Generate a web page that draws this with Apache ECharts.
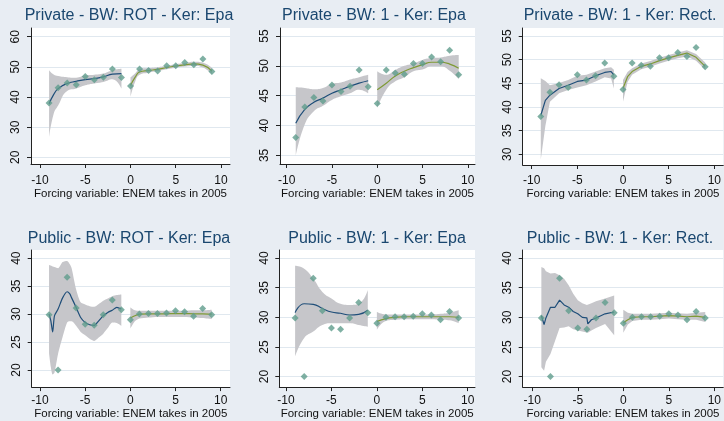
<!DOCTYPE html>
<html><head><meta charset="utf-8">
<script src="https://cdn.jsdelivr.net/npm/echarts@6/dist/echarts.min.js"></script>
<style>html,body{margin:0;padding:0;background:#e8edf3}#c{width:724px;height:421px}</style>
</head><body><div id="c"></div><script>
// ---- data ----
const xLeft = [-9, -8, -7, -6, -5, -4, -3, -2, -1];
const xRight = [0, 1, 2, 3, 4, 5, 6, 7, 8, 9];
const privateLeft = [38.0, 43.1, 44.7, 44.1, 46.8, 45.7, 46.6, 49.3, 46.5];
const privateRight = [43.7, 49.3, 48.8, 48.6, 50.4, 50.4, 51.5, 50.7, 52.6, 48.5];
const publicLeft = [29.9, 20.0, 36.6, 31.1, 28.2, 28.0, 29.9, 32.5, 30.8];
const publicRight = [29.0, 30.0, 30.1, 30.1, 30.2, 30.6, 30.4, 29.6, 31.0, 29.9];

const titles = ['Private - BW: ROT - Ker: Epa', 'Private - BW: 1 - Ker: Epa', 'Private - BW: 1 - Ker: Rect.',
                'Public - BW: ROT - Ker: Epa', 'Public - BW: 1 - Ker: Epa', 'Public - BW: 1 - Ker: Rect.'];
const xTicks = [-10, -5, 0, 5, 10];
const yTicksP1 = [20, 30, 40, 50, 60];
const yTicksP2 = [35, 40, 45, 50, 55];
const yTicksP3 = [30, 35, 40, 45, 50, 55];
const yTicksPub = [20, 25, 30, 35, 40];
const xName = 'Forcing variable: ENEM takes in 2005';

// panel 1 fit (Private, ROT, Epa)
const p1LX = [-9, -8.5, -8, -7, -6, -5, -4, -3, -2, -1];
const p1LFit = [37.8, 40.8, 42.8, 44.5, 45.2, 45.8, 46.1, 46.7, 47.6, 47.8];
const p1LLo = [26.7, 34.4, 37.2, 42.0, 42.8, 43.9, 44.5, 45.0, 45.9, 42.8];
const p1LHi = [48.9, 47.5, 47.0, 46.6, 46.4, 47.2, 47.4, 47.8, 48.9, 49.4];
const p1RX = [0, 0.5, 1, 2, 3, 4, 5, 6, 7, 8, 9];
const p1RFit = [43.8, 46.5, 48.3, 48.8, 49.2, 49.8, 50.3, 50.7, 51.0, 50.6, 48.6];
const p1RLo = [40.0, 45.0, 47.4, 48.1, 48.6, 49.2, 49.7, 50.1, 50.3, 49.8, 47.5];
const p1RHi = [46.5, 47.8, 49.2, 49.6, 49.9, 50.4, 50.9, 51.3, 51.7, 51.4, 49.7];
// panel 2 fit (Private, BW 1, Epa)
const p2LX = [-9, -8, -7, -6, -5, -4, -3, -2, -1];
const p2LFit = [40.4, 42.7, 43.9, 44.6, 45.4, 46.0, 46.6, 47.1, 47.5];
const p2LLo = [34.9, 40.2, 42.4, 43.3, 44.3, 44.9, 45.4, 46.0, 45.4];
const p2LHi = [46.4, 46.3, 46.1, 46.3, 47.0, 47.2, 47.7, 48.1, 48.5];
const p2RX = [0, 1, 2, 3, 4, 5, 6, 7, 8, 9];
const p2RFit = [46.0, 47.1, 48.3, 49.1, 49.7, 50.2, 50.6, 50.6, 50.3, 49.6];
const p2RLo = [42.9, 46.0, 47.4, 48.1, 49.1, 49.4, 49.9, 49.9, 49.2, 47.8];
const p2RHi = [49.1, 48.5, 49.3, 50.0, 50.4, 51.0, 51.3, 51.4, 51.7, 51.8];
// panel 3 fit (Private, BW 1, Rect)
const p3LX = [-9, -8.5, -8, -7, -6, -5, -4, -3, -2, -1.3, -1];
const p3LFit = [38.2, 41.4, 42.5, 43.9, 44.6, 45.4, 45.7, 46.6, 47.3, 47.5, 46.8];
const p3LLo = [28.9, 36.0, 41.1, 42.9, 43.6, 44.1, 44.6, 45.4, 46.3, 46.0, 43.9];
const p3LHi = [46.1, 45.5, 44.6, 45.1, 45.7, 46.6, 46.8, 47.5, 48.2, 48.4, 47.9];
const p3RX = [0, 0.5, 1, 2, 3, 4, 5, 6, 7, 8, 9];
const p3RFit = [43.9, 46.4, 47.5, 48.6, 49.1, 49.8, 50.4, 50.9, 51.4, 50.5, 48.6];
const p3RLo = [41.1, 45.3, 46.8, 48.0, 48.5, 49.2, 49.8, 50.3, 50.7, 49.8, 47.9];
const p3RHi = [45.7, 47.4, 48.2, 49.2, 49.7, 50.4, 51.0, 51.5, 52.0, 51.2, 49.4];
// panel 4 fit (Public, ROT, Epa)
const p4LX = [-9, -8.8, -8.6, -8.4, -8, -7.5, -7, -6.7, -6.5, -6, -5.5, -5, -4.5, -4, -3.5, -3, -2.5, -2, -1.5, -1];
const p4LFit = [30.0, 28.8, 26.8, 29.7, 30.9, 32.9, 34.0, 33.6, 32.9, 31.2, 29.4, 28.5, 28.1, 28.0, 28.8, 29.7, 30.3, 30.7, 31.2, 30.9];
const p4LLo = [23.0, 20.5, 19.2, 19.5, 22.9, 25.9, 28.5, 28.7, 28.7, 27.9, 26.8, 26.2, 25.6, 25.2, 25.8, 26.5, 27.5, 28.5, 28.4, 27.9];
const p4LHi = [38.8, 38.7, 38.5, 38.4, 38.2, 39.3, 39.5, 38.9, 38.2, 34.4, 32.1, 31.7, 31.4, 31.3, 31.8, 32.4, 32.8, 33.2, 33.4, 33.5];
const p4RX = [0, 0.5, 1, 2, 3, 4, 5, 6, 7, 8, 9];
const p4RFit = [29.3, 29.7, 30.0, 30.05, 30.05, 30.05, 30.1, 30.1, 30.05, 30.05, 30.0];
const p4RLo = [27.4, 28.7, 29.2, 29.4, 29.5, 29.5, 29.5, 29.5, 29.4, 29.3, 29.1];
const p4RHi = [31.2, 30.7, 30.6, 30.6, 30.6, 30.6, 30.6, 30.6, 30.7, 30.7, 30.8];
// panel 5 fit (Public, BW 1, Epa)
const p5LX = [-9, -8, -7, -6, -5, -4, -3, -2, -1];
const p5LFit = [30.8, 32.3, 32.2, 31.5, 30.9, 30.7, 30.4, 30.5, 31.2];
const p5LLo = [23.4, 26.5, 27.6, 28.7, 29.0, 29.0, 29.0, 28.7, 28.4];
const p5LHi = [38.7, 38.2, 36.5, 34.3, 33.2, 32.3, 32.1, 32.3, 34.6];
const p5RX = [0, 1, 2, 3, 4, 5, 6, 7, 8, 9];
const p5RFit = [29.3, 29.8, 30.0, 30.1, 30.1, 30.1, 30.1, 30.1, 30.1, 30.0];
const p5RLo = [27.9, 29.4, 29.6, 29.7, 29.7, 29.7, 29.7, 29.6, 29.5, 29.0];
const p5RHi = [30.9, 30.5, 30.5, 30.5, 30.5, 30.5, 30.5, 30.6, 30.8, 31.2];
// panel 6 fit (Public, BW 1, Rect)
const p6LX = [-9, -8.7, -8.5, -8, -7.5, -7, -6.5, -6, -5.5, -5, -4.5, -4, -3.9, -3.5, -3, -2, -1];
const p6LFit = [30.3, 28.8, 29.9, 31.7, 31.7, 32.9, 32.1, 31.7, 31.0, 30.6, 30.0, 29.9, 28.9, 29.6, 29.9, 30.6, 30.9];
const p6LLo = [21.6, 21.0, 22.5, 23.8, 26.0, 28.2, 28.3, 28.5, 28.0, 27.8, 27.6, 27.4, 27.4, 27.8, 28.2, 28.9, 27.0];
const p6LHi = [38.5, 38.3, 37.8, 37.4, 37.5, 37.1, 36.5, 35.4, 34.0, 32.9, 32.4, 32.1, 32.1, 32.4, 32.7, 33.2, 33.7];
const p6RX = [0, 0.5, 1, 2, 3, 4, 5, 6, 7, 8, 9];
const p6RFit = [29.1, 29.6, 30.0, 30.1, 30.1, 30.2, 30.3, 30.2, 30.1, 30.2, 30.0];
const p6RLo = [27.4, 28.8, 29.4, 29.6, 29.6, 29.7, 29.8, 29.7, 29.6, 29.6, 29.2];
const p6RHi = [31.3, 30.8, 30.6, 30.6, 30.6, 30.7, 30.8, 30.7, 30.6, 30.8, 30.9];

// ---- panel assembly ----
const panels = [
  {pts: [privateLeft, privateRight], yTicks: yTicksP1, L: [p1LX, p1LFit, p1LLo, p1LHi], R: [p1RX, p1RFit, p1RLo, p1RHi], smooth: true},
  {pts: [privateLeft, privateRight], yTicks: yTicksP2, L: [p2LX, p2LFit, p2LLo, p2LHi], R: [p2RX, p2RFit, p2RLo, p2RHi], smooth: true},
  {pts: [privateLeft, privateRight], yTicks: yTicksP3, L: [p3LX, p3LFit, p3LLo, p3LHi], R: [p3RX, p3RFit, p3RLo, p3RHi], smooth: false},
  {pts: [publicLeft, publicRight], yTicks: yTicksPub, L: [p4LX, p4LFit, p4LLo, p4LHi], R: [p4RX, p4RFit, p4RLo, p4RHi], smooth: 0.25},
  {pts: [publicLeft, publicRight], yTicks: yTicksPub, L: [p5LX, p5LFit, p5LLo, p5LHi], R: [p5RX, p5RFit, p5RLo, p5RHi], smooth: true},
  {pts: [publicLeft, publicRight], yTicks: yTicksPub, L: [p6LX, p6LFit, p6LLo, p6LHi], R: [p6RX, p6RFit, p6RLo, p6RHi], smooth: false}
];
// layout (pixels / axis extents)
const layout = [
  {left: 31,    top: 28,  width: 199,   height: 136, xmin: -11,    xmax: 11,    ymin: 17.8,  ymax: 62.9,  tx: 129, ty: 8,   lm: 11, ng: 22},
  {left: 280,   top: 28,  width: 195,   height: 136, xmin: -10.74, xmax: 10.8,  ymin: 33.56, ymax: 56.34, tx: 374, ty: 8,   lm: 11, ng: 22},
  {left: 522.7, top: 28,  width: 201.3, height: 137, xmin: -10.98, xmax: 10.98, ymin: 27.74, ymax: 56.7,  tx: 620, ty: 8,   lm: 10, ng: 21},
  {left: 31.7,  top: 250, width: 198.3, height: 139, xmin: -10.92, xmax: 11.03, ymin: 16.95, ymax: 41.46, tx: 129, ty: 231, lm: 8,  ng: 19},
  {left: 279.3, top: 250, width: 195.7, height: 140, xmin: -10.74, xmax: 10.8,  ymin: 18.23, ymax: 41.37, tx: 377, ty: 231, lm: 8,  ng: 19},
  {left: 522.7, top: 250, width: 201.2, height: 140, xmin: -11.05, xmax: 10.98, ymin: 18.23, ymax: 41.37, tx: 620, ty: 231, lm: 8,  ng: 19}
];

const BAND = '#c6c6ca', BLUE = '#1f4e79', GREEN = '#7f9a35', DOT = '#5f9c8c';
const AX = '#222';
const FONT = '"Liberation Sans Narrow", "Liberation Sans", Arial, sans-serif';
const TFONT = '"Liberation Sans", Arial, sans-serif';

function pairs(xs, ys) { return xs.map((x, i) => [x, ys[i]]); }
// band data: value first, x second (so the stack is applied to the y value, by index)
function bandLow(xs, lo) { return xs.map((x, i) => [lo[i], x]); }
function bandSpan(xs, lo, hi) { return xs.map((x, i) => [+(hi[i] - lo[i]).toFixed(3), x]); }

const grid = [], xAxis = [], yAxis = [], series = [], title = [];
panels.forEach((p, i) => {
  const L = layout[i];
  grid.push({left: L.left, top: L.top, width: L.width, height: L.height, show: true, backgroundColor: '#ffffff', borderWidth: 0});
  title.push({text: titles[i], left: L.tx, top: L.ty, textAlign: 'center', padding: 0,
    textStyle: {fontSize: 16, fontWeight: 'normal', color: '#1a476f', fontFamily: TFONT}});
  xAxis.push({gridIndex: i, type: 'value', min: L.xmin, max: L.xmax,
    axisLine: {show: true, onZero: false, lineStyle: {color: AX, width: 1}},
    axisTick: {show: true, length: 4, customValues: xTicks, lineStyle: {color: AX}},
    axisLabel: {customValues: xTicks, fontSize: 12, color: '#111', margin: L.lm, fontFamily: FONT},
    splitLine: {show: false},
    name: xName, nameLocation: 'middle', nameGap: L.ng,
    nameTextStyle: {fontSize: 11.5, color: '#111', fontFamily: FONT}});
  yAxis.push({gridIndex: i, type: 'value', min: L.ymin, max: L.ymax,
    axisLine: {show: true, onZero: false, lineStyle: {color: AX, width: 1}},
    axisTick: {show: true, length: 4, customValues: p.yTicks, lineStyle: {color: AX}},
    axisLabel: {customValues: p.yTicks, rotate: 90, fontSize: 12, color: '#111', margin: 9, fontFamily: FONT},
    splitLine: {show: true, lineStyle: {color: '#e0e8ef', width: 1}}});
  [['L', p.L], ['R', p.R]].forEach(([side, f]) => {
    const [xs, fit, lo, hi] = f;
    const st = 'band' + i + side;
    series.push({type: 'line', xAxisIndex: i, yAxisIndex: i, stack: st, encode: {x: 1, y: 0},
      data: bandLow(xs, lo), symbol: 'none', smooth: p.smooth, lineStyle: {opacity: 0}, silent: true, z: 1});
    series.push({type: 'line', xAxisIndex: i, yAxisIndex: i, stack: st, encode: {x: 1, y: 0},
      data: bandSpan(xs, lo, hi), symbol: 'none', smooth: p.smooth, lineStyle: {opacity: 0},
      areaStyle: {color: BAND, opacity: 1}, silent: true, z: 1});
    series.push({type: 'line', xAxisIndex: i, yAxisIndex: i, data: pairs(xs, fit), symbol: 'none',
      smooth: p.smooth, lineStyle: {color: side === 'L' ? BLUE : GREEN, width: 1.2}, z: 3});
  });
  series.push({type: 'scatter', xAxisIndex: i, yAxisIndex: i,
    data: pairs(xLeft, p.pts[0]).concat(pairs(xRight, p.pts[1])),
    symbol: 'diamond', symbolSize: 7, itemStyle: {color: DOT}, z: 4});
});

const chart = echarts.init(document.getElementById('c'), null, {renderer: 'canvas'});
chart.setOption({backgroundColor: '#e8edf3', animation: false, title, grid, xAxis, yAxis, series});
</script></body></html>
